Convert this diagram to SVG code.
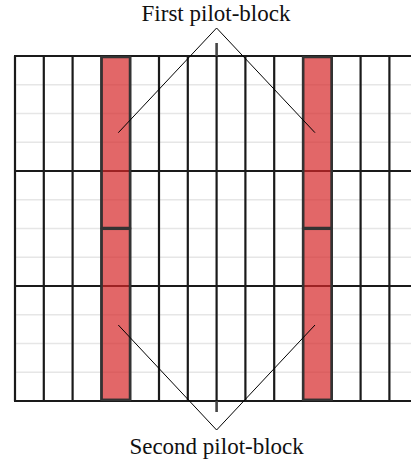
<svg xmlns="http://www.w3.org/2000/svg" width="411" height="459" viewBox="0 0 411 459">
<style>
.minor{stroke:#e6e6e6;stroke-width:1.5;fill:none}
.major{stroke:#1a1a1a;stroke-width:2.2;fill:none}
.vline{stroke:#1a1a1a;stroke-width:2.2;fill:none}
.tick{stroke:#444;stroke-width:2.6;fill:none}
.pilot{fill:#d62728;fill-opacity:0.7;stroke:#333;stroke-width:2.5}
.conn{stroke:#000;stroke-width:1;fill:none}
.lbl{font-size:23px;fill:#111;text-anchor:middle}
</style>
<rect width="411" height="459" fill="#fff"/>
<g id="grid">
<g id="minor-lines">
<line class="minor" x1="15" y1="84.75" x2="411" y2="84.75"/>
<line class="minor" x1="15" y1="113.5" x2="411" y2="113.5"/>
<line class="minor" x1="15" y1="142.25" x2="411" y2="142.25"/>
<line class="minor" x1="15" y1="199.75" x2="411" y2="199.75"/>
<line class="minor" x1="15" y1="228.5" x2="411" y2="228.5"/>
<line class="minor" x1="15" y1="257.25" x2="411" y2="257.25"/>
<line class="minor" x1="15" y1="314.75" x2="411" y2="314.75"/>
<line class="minor" x1="15" y1="343.5" x2="411" y2="343.5"/>
<line class="minor" x1="15" y1="372.25" x2="411" y2="372.25"/>
</g>
<g id="columns">
<line class="vline" x1="15" y1="56" x2="15" y2="401"/>
<line class="vline" x1="43.8" y1="56" x2="43.8" y2="401"/>
<line class="vline" x1="72.6" y1="56" x2="72.6" y2="401"/>
<line class="vline" x1="101.4" y1="56" x2="101.4" y2="401"/>
<line class="vline" x1="130.2" y1="56" x2="130.2" y2="401"/>
<line class="vline" x1="159" y1="56" x2="159" y2="401"/>
<line class="vline" x1="187.8" y1="56" x2="187.8" y2="401"/>
<line class="vline" x1="216.6" y1="56" x2="216.6" y2="401"/>
<line class="vline" x1="245.4" y1="56" x2="245.4" y2="401"/>
<line class="vline" x1="274.2" y1="56" x2="274.2" y2="401"/>
<line class="vline" x1="303" y1="56" x2="303" y2="401"/>
<line class="vline" x1="331.8" y1="56" x2="331.8" y2="401"/>
<line class="vline" x1="360.6" y1="56" x2="360.6" y2="401"/>
<line class="vline" x1="389.4" y1="56" x2="389.4" y2="401"/>
</g>
<g id="rows">
<line class="major" x1="14" y1="56" x2="411" y2="56"/>
<line class="major" x1="14" y1="171" x2="411" y2="171"/>
<line class="major" x1="14" y1="286" x2="411" y2="286"/>
<line class="major" x1="14" y1="401" x2="411" y2="401"/>
</g>
<line class="tick" x1="216.6" y1="43" x2="216.6" y2="56"/>
<line class="tick" x1="216.6" y1="401" x2="216.6" y2="412"/>
</g>
<g id="pilot-block-1">
<rect class="pilot" x="101.6" y="57" width="28.4" height="171"/>
<rect class="pilot" x="303.2" y="57" width="28.4" height="171"/>
</g>
<g id="pilot-block-2">
<rect class="pilot" x="101.6" y="228.8" width="28.4" height="171"/>
<rect class="pilot" x="303.2" y="228.8" width="28.4" height="171"/>
</g>
<g id="connectors">
<polyline class="conn" points="118.3,132.7 216.6,28 315,132.7"/>
<polyline class="conn" points="118.3,325 216.6,430 315,325"/>
</g>
<g id="label-first">
<text class="lbl" font-family="Times New Roman, Liberation Serif, serif" x="216" y="21">First pilot-block</text>
</g>
<g id="label-second">
<text class="lbl" font-family="Times New Roman, Liberation Serif, serif" x="216.6" y="454">Second pilot-block</text>
</g>
</svg>
